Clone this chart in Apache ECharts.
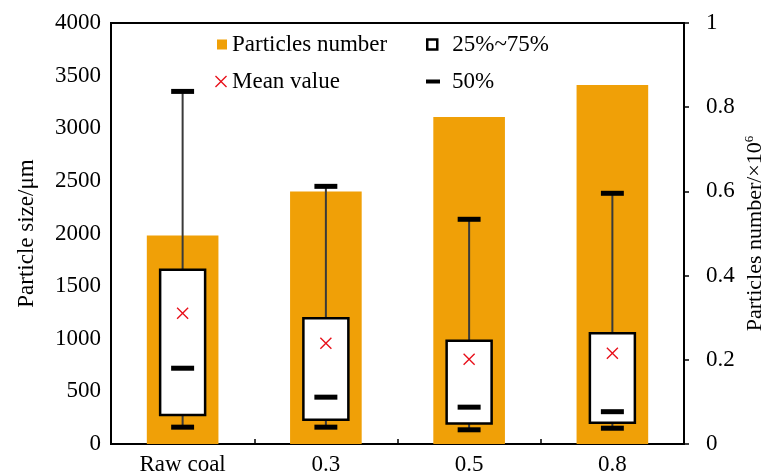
<!DOCTYPE html>
<html>
<head>
<meta charset="utf-8">
<script src="https://cdn.jsdelivr.net/npm/echarts@6/dist/echarts.min.js"></script>
<style>
html,body{margin:0;padding:0;background:#fff;}
#chart{width:766px;height:475px;}
</style>
</head>
<body>
<div id="chart"></div>
<script>
// ---- data ----
const categories = ['Raw coal', '0.3', '0.5', '0.8'];
const particlesNumber = [0.495, 0.600, 0.777, 0.853];   // ×10^6, right axis
const sizeMin    = [160, 160, 135, 150];
const sizeQ1     = [275, 230, 195, 203];
const sizeMedian = [720, 445, 350, 307];
const sizeQ3     = [1655, 1195, 982, 1052];
const sizeMax    = [3350, 2448, 2135, 2382];
const sizeMean   = [1242, 957, 805, 862];
const leftTicks  = {min: 0, max: 4000, interval: 500};
const rightTicks = {min: 0, max: 1, interval: 0.2};

const FONT = "'Times New Roman', 'Liberation Serif', serif";
const FS = 23;
const ORANGE = '#F0A007';
const X_PATH = 'path://M0,8 L8,0 L50,42 L92,0 L100,8 L58,50 L100,92 L92,100 L50,58 L8,100 L0,92 L42,50 Z';

const boxData = categories.map((c, i) => [i, sizeMin[i], sizeQ1[i], sizeQ3[i], sizeMax[i]]);

const chart = echarts.init(document.getElementById('chart'), null, {renderer: 'canvas'});

function legendCfg(name, left, top, extra) {
  return Object.assign({
    left: left, top: top, orient: 'vertical',
    selectedMode: false,
    textStyle: {fontFamily: FONT, fontSize: FS, color: '#000'},
    data: [name]
  }, extra);
}

const option = {
  animation: false,
  backgroundColor: '#fff',
  grid: {left: 111, right: 82, top: 23, bottom: 31, containLabel: false, outerBoundsMode: 'none',
    show: true, borderColor: '#000', borderWidth: 2, backgroundColor: 'transparent'},
  legend: [
    legendCfg('Particles number', 212, 28, {icon: 'rect', itemWidth: 10, itemHeight: 10, textStyle: {fontFamily: FONT, fontSize: FS, color: '#000', padding: [0,0,0,0]}}),
    legendCfg('Mean value', 210, 65, {icon: X_PATH, itemWidth: 12, itemHeight: 12, textStyle: {fontFamily: FONT, fontSize: FS, color: '#000', padding: [0,0,0,0]}}),
    legendCfg('25%~75%', 421, 28, {itemWidth: 10, itemHeight: 10, textStyle: {fontFamily: FONT, fontSize: FS, color: '#000', padding: [0,0,0,10]},
      data: [{name: '25%~75%', icon: 'rect', itemStyle: {color: '#fff', borderColor: '#000', borderWidth: 2.5}}]}),
    legendCfg('50%', 421, 65, {icon: 'rect', itemWidth: 14, itemHeight: 4, textStyle: {fontFamily: FONT, fontSize: FS, color: '#000', padding: [0,0,0,7]}})
  ],
  xAxis: {
    type: 'category',
    data: categories,
    axisLine: {lineStyle: {color: '#000', width: 2}},
    axisTick: {show: true, inside: true, length: 5, lineStyle: {color: '#000', width: 1.5}},
    axisLabel: {fontFamily: FONT, fontSize: FS, color: '#000', margin: 9},
    splitLine: {show: false}
  },
  yAxis: [
    {
      type: 'value', min: leftTicks.min, max: leftTicks.max, interval: leftTicks.interval,
      name: 'Particle size/μm', nameLocation: 'middle', nameRotate: 90, nameGap: 73, nameMoveOverlap: false,
      nameTextStyle: {fontFamily: FONT, fontSize: FS, color: '#000'},
      axisLine: {show: true, lineStyle: {color: '#000', width: 2}},
      axisTick: {show: false},
      axisLabel: {fontFamily: FONT, fontSize: FS, color: '#000', margin: 10, formatter: v => String(v)},
      splitLine: {show: false}
    },
    {
      type: 'value', min: rightTicks.min, max: rightTicks.max, interval: rightTicks.interval,
      position: 'right',
      name: '{n|Particles number/×10}{s|6}', nameLocation: 'middle', nameRotate: 90, nameGap: 59, nameMoveOverlap: false,
      nameTextStyle: {fontFamily: FONT, fontSize: FS, color: '#000',
        rich: {n: {fontFamily: FONT, fontSize: 22, color: '#000', lineHeight: 24},
               s: {fontFamily: FONT, fontSize: 13, color: '#000', verticalAlign: 'top', lineHeight: 24, padding: [0,0,10,0]}}},
      axisLine: {show: true, lineStyle: {color: '#000', width: 2}},
      axisTick: {show: true, inside: false, length: 5, lineStyle: {color: '#000', width: 1.5}},
      axisLabel: {fontFamily: FONT, fontSize: FS, color: '#000', margin: 22, formatter: v => String(v)},
      splitLine: {show: false}
    }
  ],
  series: [
    {
      name: 'Particles number',
      type: 'bar',
      yAxisIndex: 1,
      barWidth: '50%',
      itemStyle: {color: ORANGE},
      data: particlesNumber,
      z: 1
    },
    {
      name: '25%~75%',
      type: 'custom',
      yAxisIndex: 0,
      encode: {x: 0, y: [1, 2, 3, 4]},
      itemStyle: {color: '#fff', borderColor: '#000'},
      z: 3,
      renderItem: function (params, api) {
        const idx = api.value(0);
        const pMin = api.coord([idx, api.value(1)]);
        const pQ1 = api.coord([idx, api.value(2)]);
        const pQ3 = api.coord([idx, api.value(3)]);
        const pMax = api.coord([idx, api.value(4)]);
        const band = api.size([1, 0])[0];
        const boxW = band * 0.314;
        const capW = band * 0.16;
        const capH = 5;
        const cx = pMin[0];
        return {
          type: 'group',
          children: [
            {type: 'line', shape: {x1: cx, y1: pMax[1], x2: cx, y2: pMin[1]}, style: {stroke: '#3a3a3a', lineWidth: 2}},
            {type: 'rect', shape: {x: cx - boxW / 2, y: pQ3[1], width: boxW, height: pQ1[1] - pQ3[1]},
              style: {fill: '#fff', stroke: '#000', lineWidth: 2.5}},
            {type: 'rect', shape: {x: cx - capW / 2, y: pMax[1] - capH / 2, width: capW, height: capH}, style: {fill: '#000'}},
            {type: 'rect', shape: {x: cx - capW / 2, y: pMin[1] - capH / 2, width: capW, height: capH}, style: {fill: '#000'}}
          ]
        };
      },
      data: boxData
    },
    {
      name: '50%',
      type: 'scatter',
      yAxisIndex: 0,
      symbol: 'rect',
      symbolSize: [23, 5],
      itemStyle: {color: '#000', opacity: 1},
      data: sizeMedian,
      z: 5
    },
    {
      name: 'Mean value',
      type: 'scatter',
      yAxisIndex: 0,
      symbol: X_PATH,
      symbolSize: 12,
      itemStyle: {color: '#E8101A', opacity: 1},
      data: sizeMean,
      z: 5
    }
  ]
};
chart.setOption(option);
</script>
</body>
</html>
